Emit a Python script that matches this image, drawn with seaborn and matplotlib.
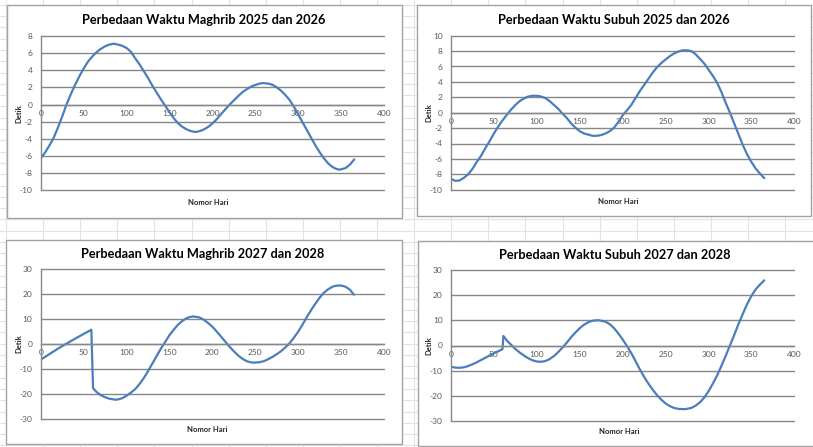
import matplotlib
matplotlib.use("Agg")
import matplotlib.pyplot as plt
from matplotlib.patches import Rectangle
from matplotlib.lines import Line2D
import seaborn as sns
import pandas as pd

# ---- data: difference in prayer time (seconds) per day number ----
maghrib_2526_hari = [0, 5, 10, 15, 20, 25, 30, 35, 40, 45, 50, 55, 60, 65, 70, 75, 80, 85, 90, 95, 100,
                     105, 110, 115, 120, 125, 130, 135, 140, 145, 150, 155, 160, 165, 170, 175, 180,
                     185, 190, 195, 200, 205, 210, 215, 220, 225, 230, 235, 240, 245, 250, 255, 259,
                     265, 270, 275, 280, 285, 290, 295, 300, 305, 310, 315, 320, 325, 330, 335, 340,
                     344, 348, 355, 360, 365]
maghrib_2526_detik = [-6.3, -5.6, -4.8, -3.9, -2.7, -1.4, 0.0, 1.2, 2.3, 3.3, 4.2, 5.0, 5.6, 6.1, 6.5,
                      6.8, 7.0, 7.1, 7.0, 6.85, 6.6, 6.15, 5.4, 4.7, 3.9, 3.1, 2.2, 1.4, 0.6, -0.15,
                      -0.9, -1.6, -2.2, -2.6, -2.9, -3.1, -3.2, -3.1, -2.9, -2.6, -2.2, -1.7, -1.1,
                      -0.55, 0.0, 0.5, 1.0, 1.45, 1.8, 2.1, 2.3, 2.45, 2.5, 2.45, 2.3, 2.0, 1.6, 1.1,
                      0.5, -0.3, -1.2, -2.1, -3.0, -3.9, -4.8, -5.6, -6.3, -6.9, -7.3, -7.5, -7.6,
                      -7.4, -7.0, -6.4]

subuh_2526_hari = [0, 5, 10, 15, 20, 25, 30, 35, 40, 45, 50, 55, 60, 67, 70, 75, 80, 85, 90, 95, 100,
                   105, 110, 115, 120, 125, 129, 135, 140, 145, 150, 155, 160, 165, 170, 175, 180, 185,
                   190, 195, 200, 205, 210, 215, 220, 225, 230, 235, 240, 245, 250, 255, 260, 265, 270,
                   275, 280, 285, 290, 295, 300, 305, 310, 315, 320, 325, 330, 335, 340, 345, 350, 355,
                   360, 365]
subuh_2526_detik = [-8.6, -8.85, -8.8, -8.45, -8.0, -7.3, -6.4, -5.6, -4.6, -3.7, -2.7, -1.8, -1.0, 0.0,
                    0.4, 1.0, 1.5, 1.85, 2.1, 2.2, 2.2, 2.1, 1.9, 1.5, 1.0, 0.5, 0.0, -0.7, -1.4, -1.95,
                    -2.4, -2.7, -2.85, -3.0, -3.0, -2.9, -2.7, -2.4, -1.95, -1.2, -0.35, 0.3, 1.0, 1.9,
                    2.8, 3.6, 4.4, 5.2, 5.9, 6.45, 6.9, 7.35, 7.7, 7.95, 8.1, 8.1, 8.0, 7.6, 7.0, 6.4,
                    5.6, 4.8, 3.9, 2.7, 1.3, 0.0, -1.4, -2.8, -4.2, -5.4, -6.4, -7.25, -7.9, -8.5]

maghrib_2728_hari = [0, 5, 10, 15, 20, 25, 30, 35, 40, 45, 50, 55, 59, 61, 65, 70, 75, 80, 87, 90, 95,
                     100, 105, 110, 115, 120, 125, 130, 135, 140, 145, 150, 155, 160, 165, 170, 174, 178,
                     185, 190, 195, 200, 205, 210, 215, 220, 225, 230, 235, 240, 244, 248, 255, 260, 265,
                     270, 275, 280, 285, 290, 295, 300, 305, 310, 315, 320, 325, 330, 335, 340, 344, 349,
                     352, 355, 360, 365]
maghrib_2728_detik = [-6.4, -5.3, -4.2, -3.1, -2.0, -1.0, 0.0, 1.0, 2.0, 2.95, 3.9, 4.8, 5.6, -17.8,
                      -19.3, -20.6, -21.4, -22.0, -22.4, -22.3, -21.8, -20.8, -19.6, -18.2, -16.2,
                      -13.8, -11.0, -8.0, -5.0, -2.0, 0.7, 3.4, 5.6, 7.6, 9.1, 10.2, 10.7, 10.9, 10.5,
                      9.6, 8.3, 6.8, 4.9, 2.9, 0.85, -1.2, -3.0, -4.7, -6.0, -7.0, -7.4, -7.6, -7.4,
                      -7.0, -6.2, -5.3, -4.2, -3.0, -1.5, 0.2, 2.4, 4.8, 7.6, 10.6, 13.4, 16.0, 18.4,
                      20.4, 21.8, 22.8, 23.2, 23.3, 23.1, 22.8, 21.7, 19.6]

subuh_2728_hari = [0, 5, 10, 15, 20, 25, 30, 35, 40, 45, 50, 55, 60, 61, 65, 70, 75, 80, 85, 90, 95, 100,
                   105, 110, 115, 120, 125, 130, 135, 140, 145, 150, 155, 160, 165, 172, 180, 185, 190,
                   195, 200, 205, 210, 215, 220, 225, 230, 235, 240, 245, 250, 255, 260, 265, 273, 280,
                   285, 290, 295, 300, 305, 310, 315, 320, 325, 330, 335, 340, 345, 350, 355, 360, 365]
subuh_2728_detik = [-8.5, -8.8, -8.9, -8.7, -8.2, -7.5, -6.7, -5.8, -4.9, -4.0, -3.1, -2.3, -1.5, 3.8,
                    2.0, 0.3, -1.4, -2.8, -4.0, -5.1, -5.9, -6.4, -6.5, -6.2, -5.4, -4.2, -2.6, -0.8,
                    1.2, 3.3, 5.2, 6.9, 8.3, 9.3, 9.9, 10.1, 9.5, 8.5, 6.9, 4.8, 2.4, -0.2, -3.0, -6.2,
                    -9.5, -12.5, -15.2, -17.6, -19.8, -21.6, -23.1, -24.2, -24.9, -25.3, -25.4, -24.9,
                    -24.0, -22.7, -20.8, -18.3, -15.3, -12.0, -8.2, -4.2, 0.0, 4.2, 8.6, 12.6, 16.5,
                    19.8, 22.4, 24.3, 26.0]

judul = ["Perbedaan Waktu Maghrib 2025 dan 2026", "Perbedaan Waktu Subuh 2025 dan 2026",
         "Perbedaan Waktu Maghrib 2027 dan 2028", "Perbedaan Waktu Subuh 2027 dan 2028"]
x_ticks = [0, 50, 100, 150, 200, 250, 300, 350, 400]
y_ticks = [list(range(-10, 9, 2)), list(range(-10, 11, 2)),
           list(range(-30, 31, 10)), list(range(-30, 31, 10))]
x_label = "Nomor Hari"
y_label = "Detik"

series = [(maghrib_2526_hari, maghrib_2526_detik), (subuh_2526_hari, subuh_2526_detik),
          (maghrib_2728_hari, maghrib_2728_detik), (subuh_2728_hari, subuh_2728_detik)]

# ---- styling ----
sns.set_style("white")
plt.rcParams["font.family"] = ["Lato", "DejaVu Sans"]

W, H = 813, 447
fig = plt.figure(figsize=(W / 100, H / 100), dpi=100)
fig.patch.set_facecolor("white")

def fx(px):
    return px / W

def fy(py):
    return 1 - py / H

# worksheet cell grid behind the charts
cell_col = "#e2e2e2"
k = 0
while 6 + 37.1 * k < W:
    xx = fx(6 + 37.1 * k)
    fig.add_artist(Line2D([xx, xx], [0, 1], color=cell_col, lw=0.8, zorder=-5))
    k += 1
k = 0
while 4.7 + 11.3 * k < H:
    yy = fy(4.7 + 11.3 * k)
    fig.add_artist(Line2D([0, 1], [yy, yy], color=cell_col, lw=0.8, zorder=-5))
    k += 1

# chart frames (left, top, right, bottom in px)
frames = [(7, 5, 402, 217.5), (416.7, 4.7, 811, 216), (6, 240, 402, 443.5), (417.5, 241, 816, 446)]
# plot areas (left, top, right, bottom in px)
plots = [(40.7, 36, 384.3, 190.3), (451, 35.7, 794.3, 189.7),
         (40.7, 268.7, 384, 418.7), (451, 270.3, 794.3, 420.7)]
titles_xy = [(204, 20.5), (614, 20), (203, 253.5), (615, 255)]
xlab_xy = [(208, 202.5), (618, 202), (207, 430), (619, 432)]
ylab_x = [18.5, 429, 18.5, 429]

grid_col = "#878787"
tick_col = "#595959"
line_col = "#4a7ebb"

for i, ((hari, detik), (l, t, r, b)) in enumerate(zip(series, plots)):
    fl, ft, fr, fb = frames[i]
    fig.add_artist(Rectangle((fx(fl), fy(fb)), fx(fr - fl), (fb - ft) / H,
                             transform=fig.transFigure, facecolor="white",
                             edgecolor="#a3a3a3", lw=1.0, zorder=-1))
    ax = fig.add_axes([fx(l), fy(b), fx(r - l), (b - t) / H])
    ax.set_facecolor("white")
    df = pd.DataFrame({"hari": hari, "detik": detik})
    sns.lineplot(data=df, x="hari", y="detik", ax=ax, color=line_col, linewidth=1.6,
                 sort=False, estimator=None)
    for ln in ax.get_lines():
        ln.set_solid_joinstyle("round")
        ln.set_solid_capstyle("round")
    yt = y_ticks[i]
    ax.set_xlim(0, 400)
    ax.set_ylim(yt[0], yt[-1])
    ax.set_xticks(x_ticks)
    ax.set_yticks(yt)
    ax.set_xticklabels([str(v) for v in x_ticks])
    ax.set_yticklabels([str(v) for v in yt])
    ax.grid(axis="y", color=grid_col, lw=1.0)
    ax.grid(axis="x", visible=False)
    for gl in ax.get_ygridlines():
        gl.set_clip_on(False)
    ax.set_axisbelow(True)
    for s in ["top", "right"]:
        ax.spines[s].set_visible(False)
    ax.spines["left"].set_color(grid_col)
    ax.spines["left"].set_linewidth(1.0)
    ax.spines["bottom"].set_position(("data", 0))
    ax.spines["bottom"].set_color(grid_col)
    ax.spines["bottom"].set_linewidth(1.0)
    ax.tick_params(axis="y", direction="out", length=3, width=0.8, color=grid_col,
                   labelsize=6, labelcolor=tick_col, pad=3)
    ax.tick_params(axis="x", direction="out", length=2.5, width=0.8, color=grid_col,
                   labelsize=6, labelcolor=tick_col, pad=1.5)
    ax.set_xlabel("")
    ax.set_ylabel("")

    tx, ty = titles_xy[i]
    fig.text(fx(tx), fy(ty), judul[i], ha="center", va="center", fontsize=9.2,
             fontweight="bold", color="black")
    lx, ly = xlab_xy[i]
    fig.text(fx(lx), fy(ly), x_label, ha="center", va="center", fontsize=5.5,
             fontweight="bold", color="#262626")
    fig.text(fx(ylab_x[i]), fy((t + b) / 2), y_label, ha="center", va="center",
             rotation=90, fontsize=5.5, fontweight="bold", color="#262626")

fig.savefig("out.png", dpi=100)
